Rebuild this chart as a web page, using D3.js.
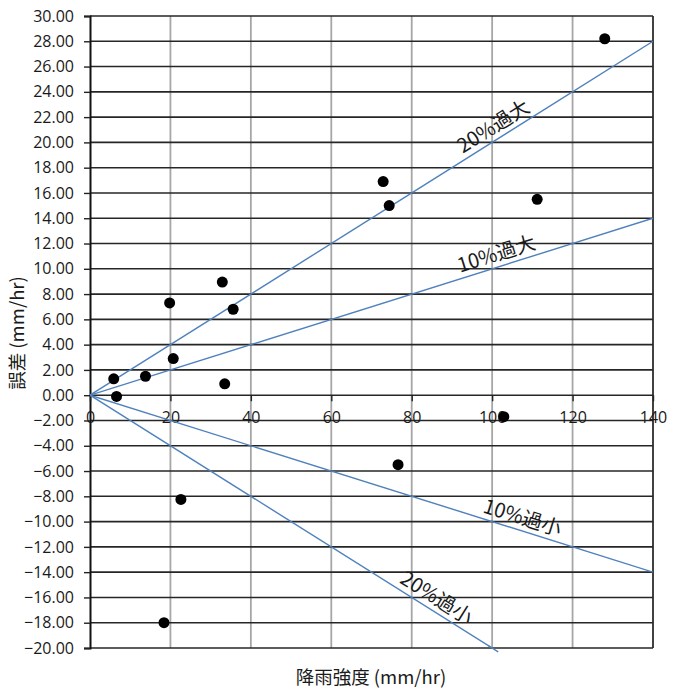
<!DOCTYPE html>
<html>
<head>
<meta charset="utf-8">
<script src="https://cdn.jsdelivr.net/npm/d3@7"></script>
<style>
  body { margin: 0; background: #fff; }
  svg { display: block; }
  text { font-family: "Noto Sans CJK JP", "Noto Sans", sans-serif; fill: #1a1a1a; }
</style>
</head>
<body>
<svg id="chart"></svg>
<script>
// rainfall intensity (mm/hr) vs error (mm/hr)
const rainfall = [128.0, 72.9, 74.4, 111.2, 19.8, 32.9, 35.6, 20.7, 5.9, 13.8, 6.6, 33.5, 102.9, 76.6, 22.6, 18.4];
const errors   = [28.2, 16.9, 15.0, 15.5, 7.3, 8.95, 6.8, 2.9, 1.3, 1.5, -0.1, 0.9, -1.7, -5.5, -8.25, -18.0];

const xTicks = [0, 20, 40, 60, 80, 100, 120, 140];
const yTicks = d3.range(-20, 31, 2);

// reference lines: error = ratio * rainfall
const refRatios = [0.2, 0.1, -0.1, -0.2];
const refLabels = ['20%過大', '10%過大', '10%過小', '20%過小'];
const refLabelAt = [102, 102, 106.6, 84.5];

const width = 680, height = 689;
const margin = { top: 16, right: 27, bottom: 41, left: 90 };

const svg = d3.select('#chart').attr('width', width).attr('height', height);

const x = d3.scaleLinear().domain([0, 140]).range([margin.left, width - margin.right]);
const y = d3.scaleLinear().domain([-20, 30]).range([height - margin.bottom, margin.top]);

const clipId = 'plot-clip';
svg.append('clipPath').attr('id', clipId)
  .append('rect')
  .attr('x', x(0)).attr('y', y(30))
  .attr('width', x(140) - x(0)).attr('height', y(-20) - y(30));

// vertical grid
svg.append('g')
  .selectAll('line')
  .data(xTicks.slice(1))
  .enter().append('line')
  .attr('x1', d => x(d)).attr('x2', d => x(d))
  .attr('y1', y(30)).attr('y2', y(-20))
  .attr('stroke', '#a6a6a6')
  .attr('stroke-width', 1.8);

// horizontal grid
svg.append('g')
  .selectAll('line')
  .data(yTicks)
  .enter().append('line')
  .attr('x1', x(0)).attr('x2', x(140))
  .attr('y1', d => y(d)).attr('y2', d => y(d))
  .attr('stroke', '#262626')
  .attr('stroke-width', 1.6);

// right border
svg.append('line')
  .attr('x1', x(140)).attr('x2', x(140))
  .attr('y1', y(30)).attr('y2', y(-20))
  .attr('stroke', '#262626').attr('stroke-width', 1.6);

// y axis
const yAxis = svg.append('g')
  .attr('transform', `translate(${x(0)},0)`)
  .call(d3.axisLeft(y).tickValues(yTicks).tickFormat(d3.format('.2f')).tickSize(6).tickPadding(10));
yAxis.select('.domain').attr('stroke', '#111').attr('stroke-width', 2);
yAxis.selectAll('.tick line').attr('stroke', '#222').attr('stroke-width', 1.4);
yAxis.selectAll('.tick text')
  .style('font-size', '16px')
  .style('font-family', '"Open Sans", sans-serif')
  .attr('fill', '#1a1a1a');

// x axis crossing at y = 0
const xAxis = svg.append('g')
  .attr('transform', `translate(0,${y(0)})`)
  .call(d3.axisBottom(x).tickValues(xTicks).tickSize(6).tickPadding(10));
xAxis.select('.domain').remove();
xAxis.selectAll('.tick line').attr('stroke', '#222').attr('stroke-width', 1.4);
xAxis.selectAll('.tick text')
  .style('font-size', '16px')
  .style('font-family', '"Open Sans", sans-serif')
  .attr('fill', '#1a1a1a');

// reference lines
const refG = svg.append('g').attr('clip-path', `url(#${clipId})`);
refRatios.forEach(r => {
  const xEnd = Math.min(140, -20 / r > 0 ? -20 / r + 1 : 140);
  refG.append('line')
    .attr('x1', x(0)).attr('y1', y(0))
    .attr('x2', x(xEnd)).attr('y2', y(r * xEnd))
    .attr('stroke', '#4f81bd')
    .attr('stroke-width', 1.4);
});
// let the -20% line poke a little past the bottom axis like the original
svg.append('line')
  .attr('x1', x(99)).attr('y1', y(-0.2 * 99))
  .attr('x2', x(101.5)).attr('y2', y(-0.2 * 101.5))
  .attr('stroke', '#4f81bd')
  .attr('stroke-width', 1.4);

// reference line labels
refRatios.forEach((r, i) => {
  const px = x(refLabelAt[i]), py = y(r * refLabelAt[i]);
  const angle = Math.atan2(y(r * 10) - y(0), x(10) - x(0)) * 180 / Math.PI;
  svg.append('text')
    .attr('transform', `translate(${px},${py}) rotate(${angle})`)
    .attr('text-anchor', 'middle')
    .attr('dy', '-0.3em')
    .style('font-size', '20px')
    .text(refLabels[i]);
});

// data points
svg.append('g')
  .selectAll('circle')
  .data(rainfall.map((d, i) => [d, errors[i]]))
  .enter().append('circle')
  .attr('cx', d => x(d[0]))
  .attr('cy', d => y(d[1]))
  .attr('r', 5.5)
  .attr('fill', '#000');

// axis titles
svg.append('text')
  .attr('x', 371).attr('y', 684)
  .attr('text-anchor', 'middle')
  .style('font-size', '18.5px')
  .text('降雨強度 (mm/hr)');

svg.append('text')
  .attr('transform', `translate(24,333) rotate(-90)`)
  .attr('text-anchor', 'middle')
  .style('font-size', '18.5px')
  .text('誤差 (mm/hr)');
</script>
</body>
</html>
